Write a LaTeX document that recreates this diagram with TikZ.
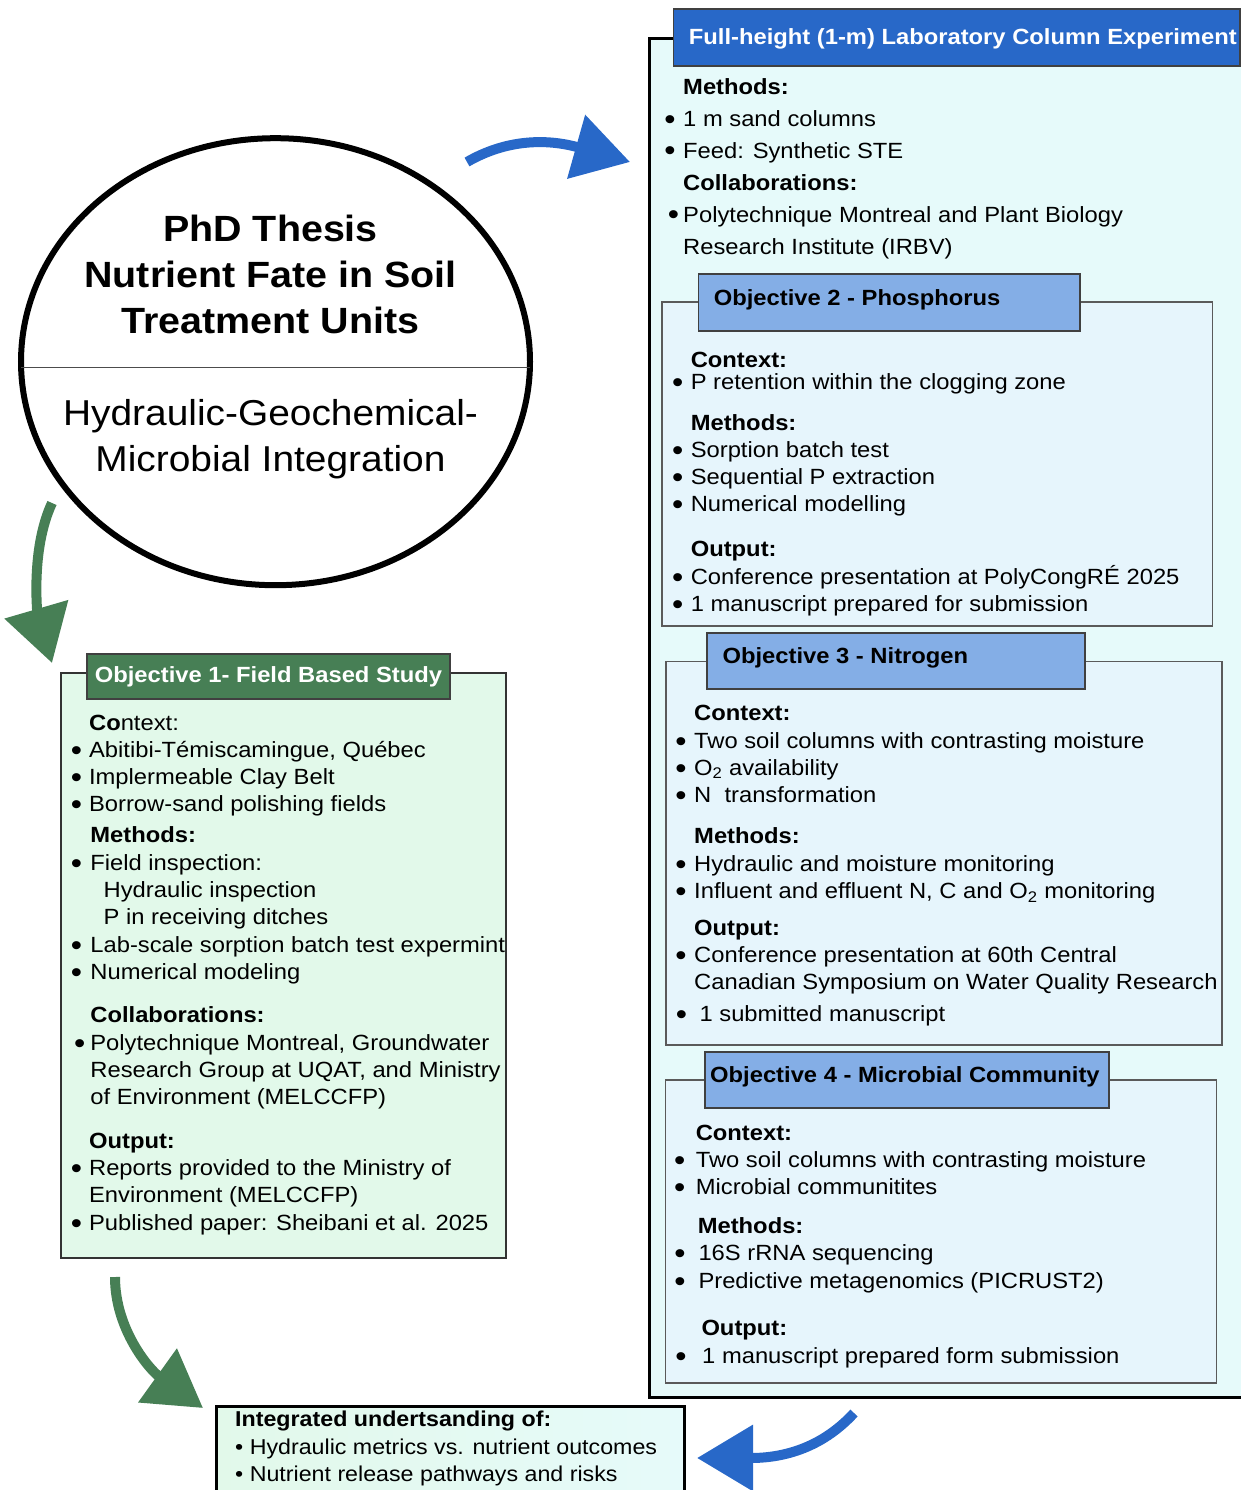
\documentclass[tikz,border=0pt]{standalone}
\usepackage{fontspec}
\setmainfont{Liberation Sans}[FakeStretch=1.08]
\usepackage{tikz}
\usetikzlibrary{arrows.meta, shapes.geometric, positioning}

\definecolor{hdblue}{RGB}{40,104,200}
\definecolor{objhdblue}{RGB}{132,174,230}
\definecolor{objfill}{RGB}{230,245,252}
\definecolor{panelfill}{RGB}{230,250,250}
\definecolor{fieldgreen}{RGB}{71,127,85}
\definecolor{fieldfill}{RGB}{226,249,234}
\definecolor{framegray}{RGB}{90,90,90}

% bullet hanging left of the text column
\newcommand{\bul}[1][9pt]{\llap{\makebox[8.3pt]{\raisebox{-3pt}{\scalebox{1.35}{\textbullet}}}\hspace{#1}}}

\begin{document}
\begin{tikzpicture}[x=1pt, y=-1pt,
  every node/.style = {inner sep=0pt},
  % text blocks are placed by the baseline of their last line
  body/.style     = {anchor=base west, align=left,
                     font=\fontsize{22}{27.3}\selectfont},
  headtxt/.style  = {anchor=base west, font=\bfseries\fontsize{22}{26}\selectfont},
  panel/.style    = {draw=black, line width=3pt, fill=panelfill, anchor=north west},
  objbox/.style   = {draw=framegray, line width=1.5pt, fill=objfill, anchor=north west},
  objhead/.style  = {draw=black!75, line width=1.8pt, fill=objhdblue, anchor=north west},
  bluearrow/.style  = {hdblue, line width=10pt,
                       -{Triangle[length=56pt,width=64pt]}},
  greenarrow/.style = {fieldgreen, line width=10pt,
                       -{Triangle[length=56pt,width=64pt]}},
]
\useasboundingbox (0,0) rectangle (1241,1490);

% ── THESIS ELLIPSE ──────────────────────────────────────────────────────────
\node[draw, line width=6pt, ellipse, fill=white,
      minimum width=509pt, minimum height=447pt] (thesis) at (275.5,361.7) {};
\draw[black!70, line width=1.5pt] ([xshift=3pt,yshift=-5.6pt]thesis.west)
  -- ([xshift=-3pt,yshift=-5.6pt]thesis.east);
\node[anchor=base, align=center, font=\bfseries\fontsize{36.5}{45.8}\selectfont]
  (thesistitle) at (270.5,333.3)
  {PhD Thesis\\Nutrient Fate in Soil\\Treatment Units};
\node[anchor=base, align=center, font=\fontsize{36}{46.7}\selectfont]
  (thesissub) at (270.5,471.7)
  {Hydraulic-Geochemical-\\Microbial Integration};

% ── COLUMN EXPERIMENT PANEL ─────────────────────────────────────────────────
\node[panel, minimum width=620pt, minimum height=1358.7pt] (colpanel) at (647.7,37.3) {};
\node[objhead, fill=hdblue, minimum width=566.4pt, minimum height=56.7pt]
  (colhead) at (672.6,8.3) {};
\node[headtxt, text=white] (coltitle) at (688.7,44.3)
  {Full-height (1-m) Laboratory Column Experiment};
\node[body, font=\fontsize{22}{32}\selectfont] (colbody) at (683,254)
  {\textbf{Methods:}\\
   \bul 1 m sand columns\\
   \bul Feed: Synthetic STE\\
   \textbf{Collaborations:}\\
   \bul[5.5pt]Polytechnique Montreal and Plant Biology\\
   Research Institute (IRBV)};

% Objective 2
\node[objbox, minimum width=550.8pt, minimum height=324pt] (o2box) at (661.1,301) {};
\node[objhead, minimum width=381.8pt, minimum height=56.7pt] (o2head) at (697.5,273.3) {};
\node[headtxt] (o2title) at (713.6,305) {Objective 2 - Phosphorus};
\node[body] (o2body) at (690.6,611.5)
  {\textbf{Context:}\\[-5.3pt]
   \bul P retention within the clogging zone\\[13.4pt]
   \textbf{Methods:}\\
   \bul Sorption batch test\\
   \bul Sequential P extraction\\
   \bul Numerical modelling\\[17.7pt]
   \textbf{Output:}\\
   \bul Conference presentation at PolyCongRÉ 2025\\
   \bul 1 manuscript prepared for submission};

% Objective 3
\node[objbox, minimum width=556.1pt, minimum height=383.3pt] (o3box) at (665.3,660.7) {};
\node[objhead, minimum width=377.5pt, minimum height=56.6pt] (o3head) at (706.3,631.7) {};
\node[headtxt] (o3title) at (722.4,663.3) {Objective 3 - Nitrogen};
\node[body] (o3body) at (694,1021.4)
  {\textbf{Context:}\\
   \bul Two soil columns with contrasting moisture\\
   \bul O\textsubscript{2} availability\\
   \bul N\ \ transformation\\[14pt]
   \textbf{Methods:}\\
   \bul Hydraulic and moisture monitoring\\
   \bul Influent and effluent N, C and O\textsubscript{2} monitoring\\[9.4pt]
   \textbf{Output:}\\
   \bul Conference presentation at 60th Central\\
   Canadian Symposium on Water Quality Research\\[4.3pt]
   \hspace*{5.4pt}\bul[13.9pt]1 submitted manuscript};

% Objective 4
\node[objbox, minimum width=550.8pt, minimum height=303pt] (o4box) at (664.9,1079.3) {};
\node[objhead, minimum width=403.6pt, minimum height=56.3pt] (o4head) at (704.4,1051) {};
\node[headtxt] (o4title) at (710,1082.7) {Objective 4 - Microbial Community};
\node[body] (o4body) at (695.6,1363.2)
  {\textbf{Context:}\\
   \bul[12pt]Two soil columns with contrasting moisture\\
   \bul[12pt]Microbial communitites\\[11.7pt]
   \hspace*{2pt}\textbf{Methods:}\\
   \hspace*{2.7pt}\bul[14.3pt]16S rRNA sequencing\\
   \hspace*{2.7pt}\bul[14.3pt]Predictive metagenomics (PICRUST2)\\[20.4pt]
   \hspace*{5.7pt}\textbf{Output:}\\
   \hspace*{6.4pt}\bul[17pt]1 manuscript prepared form submission};

% ── OBJECTIVE 1 (FIELD) ─────────────────────────────────────────────────────
\node[draw=black!80, line width=1.8pt, fill=fieldfill, anchor=north west,
      minimum width=444.6pt, minimum height=584.4pt] (o1box) at (60.4,672.3) {};
\node[draw=black!75, line width=1.8pt, fill=fieldgreen, anchor=north west,
      minimum width=363.2pt, minimum height=44.4pt] (o1head) at (86.2,653.3) {};
\node[headtxt, anchor=base, text=white] (o1title) at (268.5,682.7)
  {Objective 1- Field Based Study};
\node[body] (o1body) at (88.9,1230.2)
  {\textbf{Co}ntext:\\
   \bul[8.5pt]Abitibi-Témiscamingue, Québec\\
   \bul[8.5pt]Implermeable Clay Belt\\
   \bul[8.5pt]Borrow-sand polishing fields\\[3.7pt]
   \hspace*{1.3pt}\textbf{Methods:}\\
   \hspace*{1.3pt}\bul[9.8pt]Field inspection:\\
   \hspace*{14.6pt}Hydraulic inspection\\
   \hspace*{14.6pt}P in receiving ditches\\
   \hspace*{1.3pt}\bul[9.8pt]Lab-scale sorption batch test expermint\\
   \hspace*{1.3pt}\bul[9.8pt]Numerical modeling\\[16pt]
   \hspace*{1.3pt}\textbf{Collaborations:}\\
   \hspace*{1.3pt}\bul[6.5pt]Polytechnique Montreal, Groundwater\\
   \hspace*{1.3pt}Research Group at UQAT, and Ministry\\
   \hspace*{1.3pt}of Environment (MELCCFP)\\[16.4pt]
   \textbf{Output:}\\
   \bul[8.5pt]Reports provided to the Ministry of\\
   Environment (MELCCFP)\\
   \bul[8.5pt]Published paper: Sheibani et al. 2025};

% ── INTEGRATED RESULT ───────────────────────────────────────────────────────
\node[draw=black, line width=2.5pt, left color=fieldfill, right color=panelfill,
      anchor=north west, minimum width=468.3pt, minimum height=100pt]
  (intbox) at (215,1405) {};
\node[body, font=\fontsize{21.5}{27.5}\selectfont] (intbody) at (235,1481.7)
  {\textbf{Integrated undertsanding of:}\\
   \textbullet\ Hydraulic metrics vs. nutrient outcomes\\
   \textbullet\ Nutrient release pathways and risks};

% ── ARROWS ──────────────────────────────────────────────────────────────────
\coordinate (toblue-s)  at (467,162);
\coordinate (toblue-e)  at (630,162);
\coordinate (togreen-s) at (52,503);
\coordinate (togreen-e) at (52,663);
\coordinate (outgreen-s) at (115,1277);
\coordinate (outgreen-e) at (203,1408);
\coordinate (outblue-s) at (854,1413);
\coordinate (outblue-e) at (697,1458);

\draw[bluearrow]  (toblue-s)  .. controls (505,140) and (545,138) .. (toblue-e);
\draw[greenarrow] (togreen-s) .. controls (30,550) and (38,615) .. (togreen-e);
\draw[greenarrow] (outgreen-s) .. controls (115,1330) and (150,1370) .. (outgreen-e);
\draw[bluearrow]  (outblue-s) .. controls (820,1450) and (780,1458) .. (outblue-e);

\end{tikzpicture}
\end{document}
